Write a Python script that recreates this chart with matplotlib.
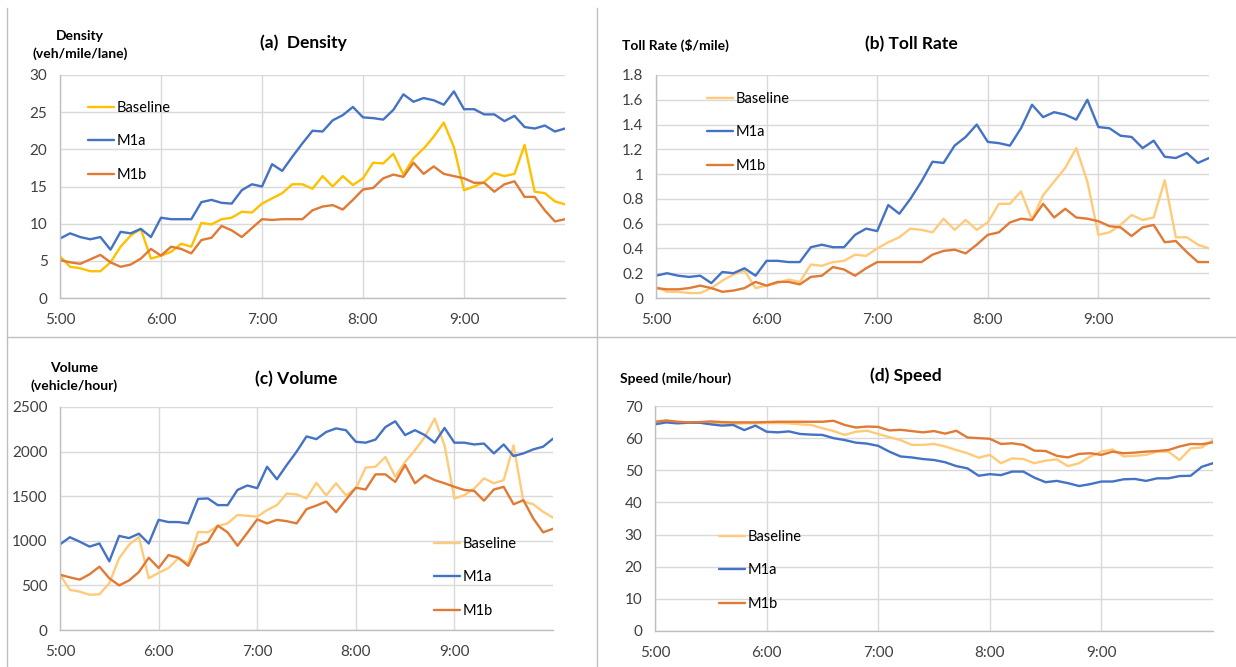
import numpy as np
import matplotlib
matplotlib.use("Agg")
import matplotlib.pyplot as plt
from matplotlib.lines import Line2D

plt.rcParams['font.family'] = ['Lato', 'DejaVu Sans']

# time axis: 5:00 to 10:00 every 6 minutes
hours = np.arange(51) / 10 + 5
tick_pos = [5, 6, 7, 8, 9]
tick_labels = ['5:00', '6:00', '7:00', '8:00', '9:00']
series_names = ['Baseline', 'M1a', 'M1b']

# (a) density, veh/mile/lane
density_base = [5.6, 4.2, 4.0, 3.6, 3.6, 4.8, 6.9, 8.4, 9.3, 5.3,
                5.7, 6.2, 7.3, 6.9, 10.1, 9.9, 10.6, 10.8, 11.6, 11.5,
                12.7, 13.4, 14.1, 15.3, 15.3, 14.7, 16.4, 15.0, 16.4, 15.2,
                16.1, 18.2, 18.1, 19.4, 16.6, 18.8, 20.1, 21.7, 23.6, 20.3,
                14.5, 15.0, 15.6, 16.8, 16.4, 16.7, 20.6, 14.3, 14.1, 13.0, 12.6]
density_m1a = [8.0, 8.7, 8.2, 7.9, 8.2, 6.5, 8.9, 8.7, 9.3, 8.2,
               10.8, 10.6, 10.6, 10.6, 12.9, 13.2, 12.8, 12.7, 14.5, 15.3,
               15.0, 18.0, 17.1, 19.0, 20.8, 22.5, 22.4, 23.9, 24.6, 25.7,
               24.3, 24.2, 24.0, 25.3, 27.4, 26.4, 26.9, 26.6, 26.0, 27.8,
               25.4, 25.4, 24.7, 24.7, 23.8, 24.5, 23.0, 22.8, 23.2, 22.4, 22.8]
density_m1b = [5.1, 4.8, 4.6, 5.2, 5.8, 4.8, 4.2, 4.5, 5.3, 6.6,
               5.7, 6.9, 6.6, 6.0, 7.8, 8.1, 9.7, 9.1, 8.2, 9.4,
               10.6, 10.5, 10.6, 10.6, 10.6, 11.8, 12.3, 12.5, 11.9, 13.2,
               14.6, 14.8, 16.1, 16.6, 16.3, 18.2, 16.7, 17.7, 16.7, 16.4,
               16.1, 15.5, 15.5, 14.3, 15.3, 15.7, 13.6, 13.6, 11.8, 10.3, 10.6]

# (b) toll rate, $/mile
toll_base = [0.09, 0.05, 0.05, 0.04, 0.04, 0.08, 0.14, 0.19, 0.22, 0.08,
             0.10, 0.12, 0.15, 0.13, 0.27, 0.26, 0.29, 0.30, 0.35, 0.34,
             0.40, 0.45, 0.49, 0.56, 0.55, 0.53, 0.64, 0.55, 0.63, 0.55,
             0.61, 0.76, 0.76, 0.86, 0.63, 0.83, 0.94, 1.05, 1.21, 0.94,
             0.51, 0.53, 0.59, 0.67, 0.63, 0.65, 0.95, 0.49, 0.49, 0.43, 0.40]
toll_m1a = [0.18, 0.20, 0.18, 0.17, 0.18, 0.12, 0.21, 0.20, 0.24, 0.18,
            0.30, 0.30, 0.29, 0.29, 0.41, 0.43, 0.41, 0.41, 0.51, 0.56,
            0.54, 0.75, 0.68, 0.80, 0.94, 1.10, 1.09, 1.23, 1.30, 1.40,
            1.26, 1.25, 1.23, 1.37, 1.56, 1.46, 1.50, 1.48, 1.44, 1.60,
            1.38, 1.37, 1.31, 1.30, 1.21, 1.27, 1.14, 1.13, 1.17, 1.09, 1.13]
toll_m1b = [0.08, 0.07, 0.07, 0.08, 0.10, 0.08, 0.05, 0.06, 0.08, 0.13,
            0.10, 0.13, 0.13, 0.11, 0.17, 0.18, 0.25, 0.23, 0.18, 0.24,
            0.29, 0.29, 0.29, 0.29, 0.29, 0.35, 0.38, 0.39, 0.36, 0.43,
            0.51, 0.53, 0.61, 0.64, 0.63, 0.76, 0.65, 0.72, 0.65, 0.64,
            0.62, 0.58, 0.57, 0.50, 0.57, 0.59, 0.45, 0.46, 0.37, 0.29, 0.29]

# (c) volume, vehicle/hour
volume_base = [620, 450, 430, 395, 400, 525, 805, 955, 1045, 580,
               640, 695, 805, 750, 1100, 1095, 1165, 1195, 1290, 1280,
               1270, 1345, 1400, 1530, 1520, 1475, 1650, 1510, 1645, 1510,
               1585, 1820, 1830, 1940, 1720, 1885, 2015, 2165, 2370, 2070,
               1475, 1510, 1585, 1700, 1645, 1680, 2070, 1440, 1410, 1325, 1260]
volume_m1a = [960, 1040, 990, 935, 970, 770, 1055, 1030, 1080, 970,
              1235, 1210, 1210, 1195, 1470, 1475, 1400, 1400, 1570, 1620,
              1590, 1830, 1690, 1850, 2000, 2170, 2140, 2220, 2260, 2240,
              2110, 2100, 2135, 2275, 2340, 2185, 2240, 2185, 2100, 2265,
              2100, 2100, 2080, 2090, 1980, 2080, 1950, 1980, 2025, 2055, 2145]
volume_m1b = [620, 590, 565, 625, 710, 580, 500, 555, 650, 810,
              695, 840, 810, 720, 945, 990, 1170, 1095, 945, 1090,
              1240, 1195, 1235, 1220, 1195, 1355, 1395, 1440, 1320, 1460,
              1595, 1575, 1745, 1745, 1660, 1850, 1645, 1735, 1680, 1645,
              1605, 1570, 1560, 1450, 1575, 1605, 1410, 1455, 1250, 1095, 1135]

# (d) speed, mile/hour
speed_base = [64.9, 65.4, 65.0, 64.9, 64.9, 64.8, 64.6, 64.4, 64.6, 64.6,
              64.7, 64.7, 64.6, 64.3, 64.1, 63.1, 62.2, 61.0, 62.0, 62.3,
              61.3, 60.3, 59.4, 57.9, 57.9, 58.2, 57.4, 56.3, 55.3, 53.9,
              54.8, 52.2, 53.7, 53.5, 52.2, 53.0, 53.4, 51.3, 52.2, 54.3,
              55.8, 56.5, 54.3, 54.5, 54.8, 55.8, 55.8, 53.2, 56.8, 57.1, 59.4]
speed_m1a = [64.3, 64.9, 64.6, 64.8, 64.8, 64.3, 63.9, 64.1, 62.5, 63.9,
             62.0, 61.8, 62.1, 61.3, 61.1, 61.0, 60.0, 59.4, 58.6, 58.3,
             57.6, 55.8, 54.3, 54.0, 53.5, 53.2, 52.5, 51.3, 50.6, 48.3,
             48.8, 48.5, 49.6, 49.6, 47.7, 46.3, 46.7, 46.0, 45.1, 45.7,
             46.5, 46.5, 47.2, 47.3, 46.7, 47.5, 47.5, 48.2, 48.3, 51.1, 52.2]
speed_m1b = [65.1, 65.5, 65.1, 64.9, 65.0, 65.2, 65.0, 64.9, 64.9, 64.9,
             65.0, 65.1, 65.1, 65.1, 65.1, 65.1, 65.4, 64.1, 63.3, 63.6,
             63.5, 62.4, 62.6, 62.2, 61.8, 62.2, 61.4, 62.3, 60.2, 60.0,
             59.8, 58.2, 58.4, 57.9, 56.1, 56.0, 54.5, 54.0, 55.1, 55.3,
             54.8, 55.8, 55.3, 55.5, 55.8, 56.0, 56.3, 57.4, 58.2, 58.1, 58.7]

W, H = 1236, 667
fig = plt.figure(figsize=(W / 100, H / 100), dpi=100)
fig.patch.set_facecolor('white')


def px_axes(x0, y0, x1, y1):
    return fig.add_axes([x0 / W, 1 - y1 / H, (x1 - x0) / W, (y1 - y0) / H])


def px_text(x, y, s, **kw):
    fig.text(x / W, 1 - y / H, s, transform=fig.transFigure, **kw)


blue = '#4472C4'
orange = '#E07A35'
gold = '#FFC000'
light = '#FFCB7A'

panels = [
    dict(box=(60, 75, 565, 298), data=(density_base, density_m1a, density_m1b),
         base_col=gold, ylim=30, ystep=5, yfmt='{:g}',
         title='(a)  Density', title_xy=(303, 43),
         leg=(0.055, 0.885)),
    dict(box=(656, 75, 1209, 298), data=(toll_base, toll_m1a, toll_m1b),
         base_col=light, ylim=1.8, ystep=0.2, yfmt='{:g}',
         title='(b) Toll Rate', title_xy=(911, 44),
         leg=(0.092, 0.925)),
    dict(box=(60, 407, 553, 630), data=(volume_base, volume_m1a, volume_m1b),
         base_col=light, ylim=2500, ystep=500, yfmt='{:g}',
         title='(c) Volume', title_xy=(296, 379),
         leg=(0.759, 0.418)),
    dict(box=(655, 406, 1213, 631), data=(speed_base, speed_m1a, speed_m1b),
         base_col=light, ylim=70, ystep=10, yfmt='{:g}',
         title='(d) Speed', title_xy=(906, 376),
         leg=(0.115, 0.45)),
]

for p in panels:
    ax = px_axes(*p['box'])
    cols = [p['base_col'], blue, orange]
    for vals, name, c in zip(p['data'], series_names, cols):
        ax.plot(hours, vals, color=c, lw=1.7, label=name,
                solid_joinstyle='round', solid_capstyle='round')
    ax.set_xlim(5, 10)
    ax.set_ylim(0, p['ylim'])
    yt = np.round(np.arange(0, p['ylim'] + p['ystep'] / 2, p['ystep']), 6)
    ax.set_yticks(yt)
    ax.set_yticklabels([p['yfmt'].format(v) for v in yt])
    ax.set_xticks(tick_pos)
    ax.set_xticklabels(tick_labels)
    ax.grid(True, color='#D9D9D9', lw=1.0)
    ax.set_axisbelow(True)
    for s in ['top', 'right']:
        ax.spines[s].set_visible(False)
    for s in ['left', 'bottom']:
        ax.spines[s].set_color('#BFBFBF')
        ax.spines[s].set_linewidth(1.0)
    ax.tick_params(length=0, labelsize=11, colors='#404040')
    ax.tick_params(axis='x', pad=11)
    ax.tick_params(axis='y', pad=9)
    ax.legend(loc='upper left', bbox_to_anchor=p['leg'], frameon=False,
              fontsize=10.5, handlelength=1.8, handletextpad=0.15,
              labelspacing=1.35, borderpad=0, borderaxespad=0)
    px_text(*p['title_xy'], p['title'], ha='center', va='center',
            fontsize=12.5, fontweight='bold', color='black')

# axis titles
px_text(80, 45, 'Density\n(veh/mile/lane)', ha='center', va='center',
        fontsize=10, fontweight='bold', linespacing=1.5)
px_text(622, 45, 'Toll Rate ($/mile)', ha='left', va='center',
        fontsize=10, fontweight='bold')
px_text(74, 377, 'Volume\n(vehicle/hour)', ha='center', va='center',
        fontsize=10, fontweight='bold', linespacing=1.5)
px_text(620, 379, 'Speed (mile/hour)', ha='left', va='center',
        fontsize=10, fontweight='bold')

# panel frames
frame = dict(color='#BFBFBF', lw=1.0, transform=fig.transFigure)
fig.add_artist(Line2D([7 / W, 7 / W], [1 - 8 / H, 0], **frame))
fig.add_artist(Line2D([597 / W, 597 / W], [1 - 8 / H, 0], **frame))
fig.add_artist(Line2D([7 / W, 1], [1 - 337 / H, 1 - 337 / H], **frame))

fig.savefig('out.png', dpi=100, facecolor='white')
